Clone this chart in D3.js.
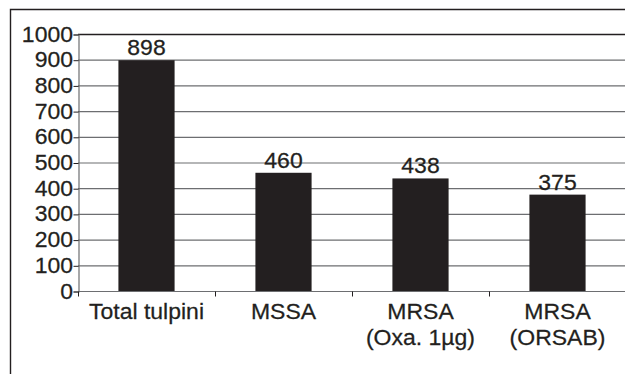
<!DOCTYPE html>
<html><head><meta charset="utf-8">
<script src="https://cdn.jsdelivr.net/npm/d3@7"></script>
<style>body{margin:0;background:#fff}svg{display:block}text{font-family:"Liberation Sans",Arial,sans-serif;fill:#231f20;font-size:21.5px;stroke:#231f20;stroke-width:0.25px}</style>
</head><body>
<script>
const categories = [["Total tulpini"], ["MSSA"], ["MRSA", "(Oxa. 1µg)"], ["MRSA", "(ORSAB)"]];
const values = [898, 460, 438, 375];
const yTicks = [0,100,200,300,400,500,600,700,800,900,1000];

(function(){
const W = 625, H = 374, SX = 1.07;
const svg = d3.select("body").append("svg").attr("width", W).attr("height", H);
svg.append("path").attr("d", "M10.5,380 V9.5 H640").attr("fill","none").attr("stroke","#231f20").attr("stroke-width",1.4);

const mLeft = 78, mRight = 626, mTop = 34, mBottom = 291;
const x = d3.scaleBand().domain(categories.map((d,i)=>i)).range([mLeft, mRight]).paddingInner(0.59).paddingOuter(0.295);
const y = d3.scaleLinear().domain([0,1000]).range([mBottom, mTop]);

function label(g, px, py, anchor, txt){
  return g.append("text").attr("transform", `translate(${px},${py}) scale(${SX},1)`)
    .attr("text-anchor", anchor).text(txt);
}

svg.append("g").selectAll("line").data(yTicks.filter(t=>t>0)).join("line")
  .attr("x1", mLeft).attr("x2", mRight).attr("y1", d=>y(d)+0.5).attr("y2", d=>y(d)+0.5)
  .attr("stroke", d=> d===1000 ? "#231f20" : "#6d6e71").attr("stroke-width", d=> d===1000?1.4:1.2);

const ya = svg.append("g").attr("transform", `translate(${mLeft+0.5},0.5)`)
  .call(d3.axisLeft(y).tickValues(yTicks).tickSize(5).tickFormat(""));
ya.select(".domain").attr("stroke","#6d6e71").attr("stroke-width",1.2);
ya.selectAll(".tick line").attr("stroke","#231f20");
const yl = svg.append("g");
yTicks.forEach(t => label(yl, mLeft-5, y(t)+7.5, "end", d3.format("d")(t)));

svg.append("g").selectAll("rect").data(values).join("rect")
  .attr("x", (d,i)=>x(i)).attr("width", x.bandwidth())
  .attr("y", d=>y(d)).attr("height", d=>mBottom - y(d)).attr("fill", "#231f20");

const xa = svg.append("g").attr("transform", `translate(0,${mBottom+0.5})`);
xa.append("line").attr("x1", mLeft).attr("x2", mRight).attr("stroke","#6d6e71").attr("stroke-width",1.2);
const step = x.step();
xa.selectAll("line.t").data(d3.range(categories.length+1)).join("line").attr("class","t")
  .attr("x1", i=>mLeft + i*step + 0.5).attr("x2", i=>mLeft + i*step + 0.5).attr("y1",0).attr("y2",5)
  .attr("stroke","#231f20");

const cl = svg.append("g");
categories.forEach((lines,i)=>{
  const cx = x(i)+x.bandwidth()/2;
  lines.forEach((l,j)=> label(cl, cx, 319 + j*26, "middle", l));
});

const vl = svg.append("g");
values.forEach((v,i)=> label(vl, x(i)+x.bandwidth()/2, y(v)-5, "middle", v));
})();
</script>
</body></html>
